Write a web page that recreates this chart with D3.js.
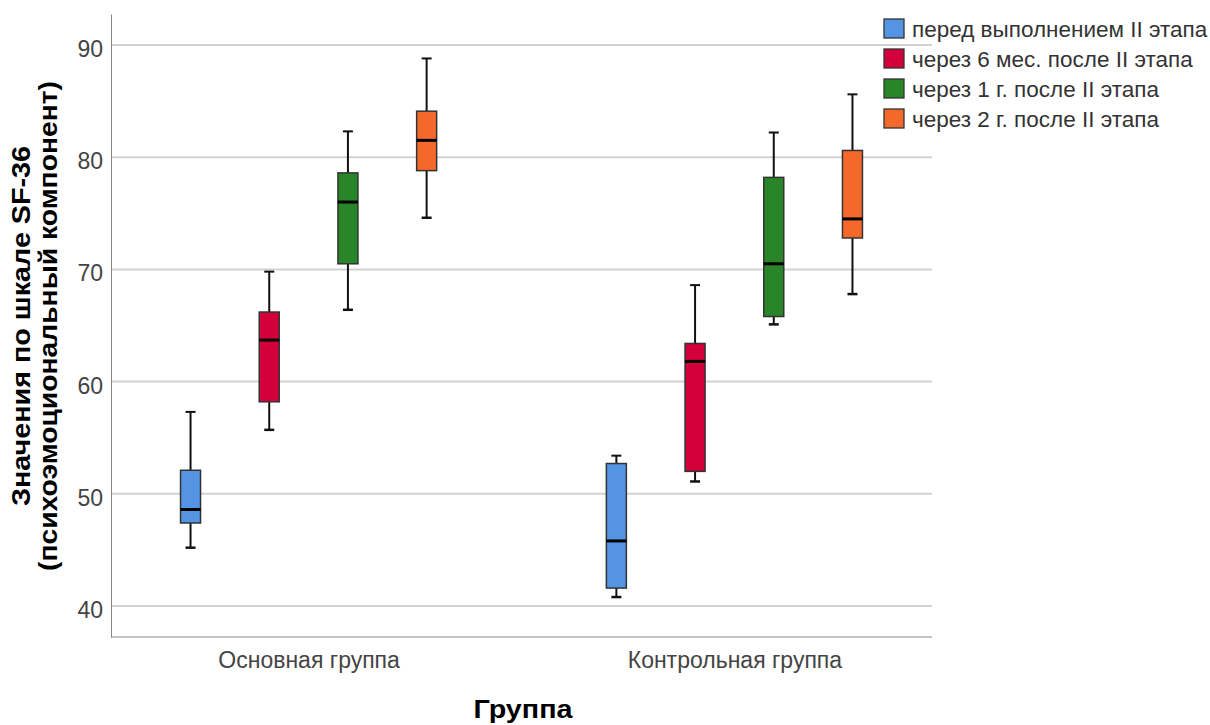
<!DOCTYPE html>
<html><head><meta charset="utf-8">
<script src="https://cdn.jsdelivr.net/npm/d3@7"></script>
<style>body{margin:0;background:#fff}svg{display:block}</style>
</head><body><svg id="c" width="1210" height="725"></svg>
<script>
const groups = ["Основная группа", "Контрольная группа"];
const series = ["перед выполнением II этапа", "через 6 мес. после II этапа", "через 1 г. после II этапа", "через 2 г. после II этапа"];
const colors = ["#5494e3", "#d3003a", "#288528", "#f4692b"];
const yTicks = [40, 50, 60, 70, 80, 90];
// per group, per series
const whiskerLow  = [[45.2, 55.7, 66.4, 74.6], [40.8, 51.1, 65.1, 67.8]];
const q1          = [[47.4, 58.2, 70.5, 78.8], [41.6, 52.0, 65.8, 72.8]];
const median      = [[48.6, 63.7, 76.0, 81.5], [45.8, 61.8, 70.5, 74.5]];
const q3          = [[52.1, 66.2, 78.6, 84.1], [52.7, 63.4, 78.2, 80.6]];
const whiskerHigh = [[57.3, 69.8, 82.3, 88.8], [53.4, 68.6, 82.2, 85.6]];

const svg = d3.select("#c");
const L = 111, R = 932, T = 14, B = 637;
const y = d3.scaleLinear().domain([37.24, 92.76]).range([B, T]);
const x = d3.scalePoint().domain(groups).range([L, R]).padding(0.464);
const xi = d3.scaleBand().domain(series).range([-157.4, 157.4]);
const boxW = 20;
const font = "'Liberation Sans', Arial, sans-serif";

// gridlines
svg.append("g").selectAll("line").data(yTicks).join("line")
  .attr("x1", L).attr("x2", R).attr("y1", d => y(d)).attr("y2", d => y(d))
  .attr("stroke", "#d2d2d2").attr("stroke-width", 2);

// axes
const ya = svg.append("g").attr("transform", `translate(${L},0)`)
  .call(d3.axisLeft(y).tickValues(yTicks).tickSize(0).tickPadding(8));
ya.select(".domain").attr("stroke", "#888");
ya.selectAll("text").attr("font-family", font).attr("font-size", 23).attr("fill", "#444").attr("dy", "0.5em");
const xa = svg.append("g").attr("transform", `translate(0,${B})`)
  .call(d3.axisBottom(x).tickSize(0).tickPadding(15));
xa.select(".domain").attr("stroke", "#888").attr("d", `M${L},0H${R}`);
xa.selectAll("text").attr("font-family", font).attr("font-size", 23).attr("fill", "#444");

// boxes
const data = [];
groups.forEach((g, gi) => series.forEach((s, si) => data.push({
  g, s, si, lo: whiskerLow[gi][si], q1: q1[gi][si], med: median[gi][si], q3: q3[gi][si], hi: whiskerHigh[gi][si]
})));
const bx = svg.append("g").selectAll("g").data(data).join("g")
  .attr("transform", d => `translate(${x(d.g) + xi(d.s) + xi.bandwidth() / 2},0)`);
bx.append("line").attr("y1", d => y(d.hi)).attr("y2", d => y(d.q3)).attr("stroke", "#111").attr("stroke-width", 2);
bx.append("line").attr("y1", d => y(d.lo)).attr("y2", d => y(d.q1)).attr("stroke", "#111").attr("stroke-width", 2);
bx.append("line").attr("x1", -5).attr("x2", 5).attr("y1", d => y(d.hi)).attr("y2", d => y(d.hi)).attr("stroke", "#111").attr("stroke-width", 2);
bx.append("line").attr("x1", -5).attr("x2", 5).attr("y1", d => y(d.lo)).attr("y2", d => y(d.lo)).attr("stroke", "#111").attr("stroke-width", 2.5);
bx.append("rect").attr("x", -boxW / 2).attr("width", boxW)
  .attr("y", d => y(d.q3)).attr("height", d => y(d.q1) - y(d.q3))
  .attr("fill", d => colors[d.si]).attr("stroke", "#333").attr("stroke-width", 1.5);
bx.append("line").attr("x1", -boxW / 2).attr("x2", boxW / 2).attr("y1", d => y(d.med)).attr("y2", d => y(d.med))
  .attr("stroke", "#000").attr("stroke-width", 3);

// legend
const lg = svg.append("g").selectAll("g").data(series).join("g")
  .attr("transform", (d, i) => `translate(884,${19 + i * 30})`);
lg.append("rect").attr("width", 20).attr("height", 19).attr("fill", (d, i) => colors[i]).attr("stroke", "#333").attr("stroke-width", 1.3);
lg.append("text").attr("x", 28).attr("y", 18).text(d => d).attr("font-family", font).attr("font-size", 22.5).attr("fill", "#333");

// axis titles
svg.append("text").attr("x", 523).attr("y", 718).attr("text-anchor", "middle")
  .attr("font-family", font).attr("font-weight", "bold").attr("font-size", 25).attr("fill", "#000")
  .attr("textLength", 99).attr("lengthAdjust", "spacingAndGlyphs").text("Группа");
const yt = svg.append("text").attr("transform", "translate(0,326) rotate(-90)").attr("text-anchor", "middle")
  .attr("font-family", font).attr("font-weight", "bold").attr("font-size", 25).attr("fill", "#000");
yt.append("tspan").attr("x", 0).attr("y", 30).attr("textLength", 360).attr("lengthAdjust", "spacingAndGlyphs").text("Значения по шкале SF-36");
yt.append("tspan").attr("x", 0).attr("y", 57).attr("textLength", 490).attr("lengthAdjust", "spacingAndGlyphs").text("(психоэмоциональный компонент)");
</script></body></html>
